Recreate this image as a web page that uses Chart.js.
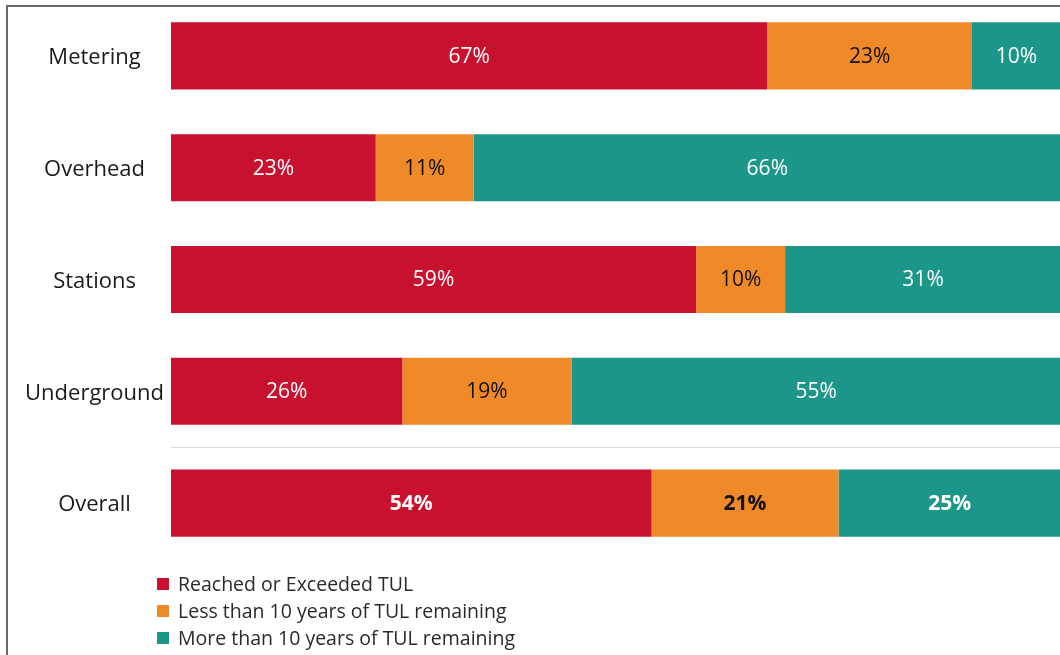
<!DOCTYPE html>
<html>
<head>
<meta charset="utf-8">
<title>TUL</title>
<script src="https://cdn.jsdelivr.net/npm/chart.js@4.4.1/dist/chart.umd.min.js"></script>
<style>
	html, body { margin: 0; padding: 0; background: #fff; overflow: hidden; }
	#marco { position: relative; width: 1061px; height: 655px; }
</style>
</head>
<body>
<div id="marco"><canvas id="TUL"></canvas></div>
<script>
/* Datos del grafico */
const categorias = ["Metering", "Overhead", "Stations", "Underground", "Overall"];
const alcanzado = [67, 23, 59, 26, 54];
const menosDiez = [23, 11, 10, 19, 21];
const masDiez = [10, 66, 31, 55, 25];
const series = [
	"Reached or Exceeded TUL",
	"Less than 10 years of TUL remaining",
	"More than 10 years of TUL remaining"
];
const colores = ["#C8102F", "#F08A29", "#1B9688"];
const colorTexto = ["#ffffff", "#111111", "#ffffff"];
const fuente = "'Open Sans', 'Noto Sans', sans-serif";

/* Etiquetas de porcentaje dentro de cada tramo */
const etiquetas = {
	id: "etiquetas",
	afterDatasetsDraw(chart) {
		const ctx = chart.ctx;
		chart.data.datasets.forEach((ds, i) => {
			chart.getDatasetMeta(i).data.forEach((bar, j) => {
				const negrita = chart.data.labels[j] === "Overall";
				ctx.save();
				ctx.font = (negrita ? "bold " : "") + "21px " + fuente;
				ctx.fillStyle = colorTexto[i];
				ctx.textAlign = "center";
				ctx.textBaseline = "middle";
				ctx.fillText(ds.data[j] + "%", (bar.x + bar.base) / 2, bar.y + 1);
				ctx.restore();
			});
		});
	}
};

/* Marco, separador del total y leyenda */
const adornos = {
	id: "adornos",
	afterDraw(chart) {
		const ctx = chart.ctx;
		const area = chart.chartArea;
		const y = chart.scales.y;
		ctx.save();
		// linea separadora antes de Overall
		const ySep = Math.round(y.getPixelForValue(3.5)) + 0.5;
		ctx.strokeStyle = "#dcdcdc";
		ctx.lineWidth = 1;
		ctx.beginPath();
		ctx.moveTo(area.left, ySep);
		ctx.lineTo(area.right, ySep);
		ctx.stroke();
		// marco gris
		ctx.fillStyle = "#6a6a6a";
		ctx.fillRect(6, 5, chart.width, 2);
		ctx.fillRect(6, 5, 2, chart.height);
		// leyenda
		ctx.font = "19.5px " + fuente;
		ctx.textBaseline = "middle";
		chart.data.datasets.forEach((ds, i) => {
			const yy = 584 + i * 27;
			ctx.fillStyle = ds.backgroundColor;
			ctx.fillRect(157, yy - 6, 12, 12);
			ctx.fillStyle = "#2a2a2a";
			ctx.fillText(ds.label, 178, yy + 1);
		});
		ctx.restore();
	}
};

const G4tul = document.getElementById("TUL").getContext("2d");
let TUL = new Chart(G4tul, {
	type: "bar",
	data: {
		labels: categorias,
		datasets: [
			{ label: series[0], data: alcanzado, backgroundColor: colores[0] },
			{ label: series[1], data: menosDiez, backgroundColor: colores[1] },
			{ label: series[2], data: masDiez, backgroundColor: colores[2] }
		]
	},
	options: {
		indexAxis: "y",
		responsive: true,
		maintainAspectRatio: false,
		animation: false,
		datasets: {
			bar: { barPercentage: 0.6, categoryPercentage: 1, borderWidth: 0 }
		},
		layout: { padding: { top: 0, left: 8, right: 0, bottom: 96 } },
		scales: {
			x: { stacked: true, min: 0, max: 100, display: false },
			y: {
				stacked: true,
				grid: { display: false, drawTicks: false },
				border: { display: false },
				afterFit(scale) {
					scale.width = 163;
					scale.paddingTop = 0;
					scale.paddingBottom = 0;
				},
				ticks: {
					color: "#1a1a1a",
					padding: 7,
					labelOffset: 2,
					crossAlign: "center",
					font: { family: fuente, size: 22 }
				}
			}
		},
		plugins: {
			legend: { display: false },
			tooltip: { enabled: false }
		}
	},
	plugins: [etiquetas, adornos]
});
</script>
</body>
</html>
